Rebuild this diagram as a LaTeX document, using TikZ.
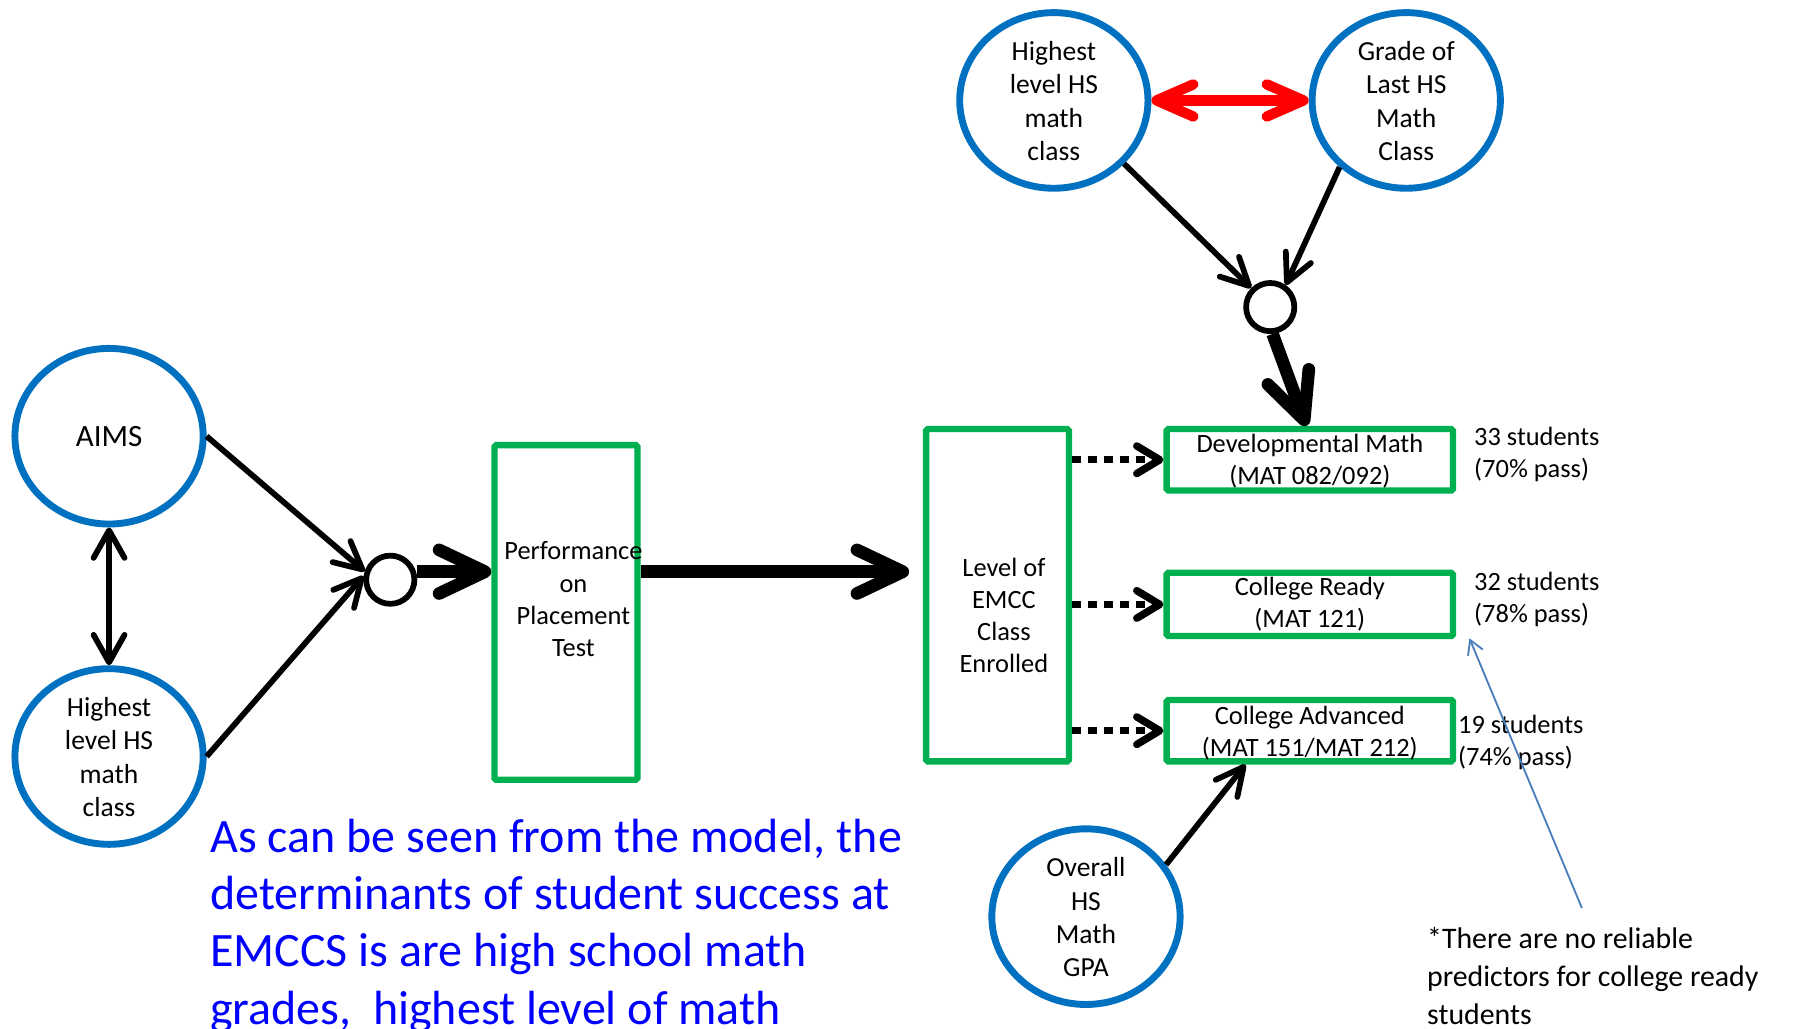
\documentclass[tikz,border=0pt]{standalone}
\usepackage{fontspec}
\setmainfont{Carlito}
\usetikzlibrary{arrows.meta,shapes.geometric,calc}
\definecolor{eblue}{HTML}{0070C0}
\definecolor{bgreen}{HTML}{00B050}
\definecolor{tblue}{HTML}{0000FF}
\definecolor{ablue}{HTML}{4A7EBB}
\definecolor{ared}{HTML}{FF0000}
\begin{document}
\begin{tikzpicture}[x=1pt,y=-1pt,
  oval/.style={ellipse, draw=eblue, line width=6pt, minimum width=164pt, minimum height=153pt, inner sep=0pt},
  gbox/.style={draw=bgreen, line width=5.5pt, rounded corners=1.5pt, inner sep=0pt},
  junc/.style={circle, draw=black, line width=5pt, minimum size=42pt, inner sep=0pt},
  otext/.style={font=\fontsize{24}{29}\selectfont, align=center, inner sep=0pt},
  btext/.style={font=\fontsize{23}{28}\selectfont, align=center, inner sep=0pt},
  stext/.style={font=\fontsize{23}{28}\selectfont, align=left, inner sep=0pt, anchor=west},
  tarr/.style={line width=5pt, -{Straight Barb[length=24pt,width=24pt,round]}},
  darrow/.style={line width=5pt, {Straight Barb[length=24pt,width=27pt,round]}-{Straight Barb[length=24pt,width=27pt,round]}},
  karr/.style={line width=11pt, -{Straight Barb[length=40pt,width=38pt,round]}},
  dotarr/.style={line width=6.5pt, dash pattern=on 7.5pt off 6.5pt, -{Straight Barb[length=20pt,width=24pt,round]}},
  rarr/.style={draw=ared, line width=9pt, {Straight Barb[length=32pt,width=28pt,round]}-{Straight Barb[length=32pt,width=28pt,round]}},
  barr/.style={draw=ablue, line width=1.6pt, -{Straight Barb[length=12pt,width=14pt]}},
]
\useasboundingbox (0,0) rectangle (1568,896);

% ellipses
\node[oval] (aims) at (95,380) {};
\node[oval] (lhigh) at (95,659) {};
\node[oval] (thigh) at (918,87.5) {};
\node[oval] (grade) at (1225,87.5) {};
\node[oval] (overall) at (946,798.5) {};

% junctions
\node[junc] (c1) at (340,505) {};
\node[junc] (c2) at (1106.5,267.5) {};

% boxes
\node[gbox, minimum width=124.5pt, minimum height=291.5pt] (perf) at (493,533.5) {};
\node[gbox, minimum width=124.5pt, minimum height=289.5pt] (level) at (869,518.5) {};
\node[gbox, minimum width=249.5pt, minimum height=53.5pt] (dev) at (1141,400.5) {};
\node[gbox, minimum width=249.5pt, minimum height=55pt] (ready) at (1141,526.5) {};
\node[gbox, minimum width=249.5pt, minimum height=53.5pt] (adv) at (1141,636.5) {};

% texts
\node[otext, font=\fontsize{27}{29}\selectfont] (aimsT) at (95,380) {AIMS};
\node[otext] (lhighT) at (95,659.5) {Highest\\level HS\\math\\class};
\node[otext] (thighT) at (918,88) {Highest\\level HS\\math\\class};
\node[otext] (gradeT) at (1225,88) {Grade of\\Last HS\\Math\\Class};
\node[otext] (overallT) at (946,799) {Overall\\HS\\Math\\GPA};
\node[btext] (perfT) at (499.5,522) {Performance\\on\\Placement\\Test};
\node[btext] (levelT) at (874.5,536) {Level of\\EMCC\\Class\\Enrolled};
\node[btext] (devT) at (1141,401.5) {Developmental Math\\(MAT 082/092)};
\node[btext] (readyT) at (1141,526.5) {College Ready\\(MAT 121)};
\node[btext] (advT) at (1141,638.5) {College Advanced\\(MAT 151/MAT 212)};
\node[stext] (s1) at (1284,396) {33 students\\(70\% pass)};
\node[stext] (s2) at (1284,522) {32 students\\(78\% pass)};
\node[stext] (s3) at (1270,647) {19 students\\(74\% pass)};

\node[font=\fontsize{41.8}{50}\selectfont, text=tblue, align=left, anchor=north west, inner sep=0pt] (para) at (183,713)
  {As can be seen from the model, the\\determinants of student success at\\EMCCS is are high school math\\grades,\ \ highest level of math};
\node[font=\fontsize{26}{33}\selectfont, align=left, anchor=north west, inner sep=0pt] (foot) at (1243,808)
  {*There are no reliable\\predictors for college ready\\students};

% connectors
\coordinate (yl) at (0,498);
\draw[darrow] (aims) -- (lhigh);
\draw[tarr] (aims.east) -- (c1.162);
\draw[tarr] (lhigh.east) -- (c1.172);
\draw[karr] ([yshift=7pt]c1.east) -- (perf.west |- yl);
\draw[karr, shorten >=12pt] (perf.east |- yl) -- (level.west |- yl);
\draw[dotarr] (level.east |- dev.west) -- (dev.west);
\draw[dotarr] (level.east |- ready.west) -- (ready.west);
\draw[dotarr] (level.east |- adv.west) -- (adv.west);
\draw[rarr] (thigh.east) -- (grade.west);
\draw[tarr] (thigh.-42) -- (c2.135);
\draw[tarr] (grade.-135) -- (c2.55);
\draw[karr] (c2.-85) -- ([xshift=-3pt]dev.north);
\draw[tarr] (overall.33) -- ($(adv.south west)!0.28!(adv.south east)$);
\coordinate (bs) at (1378,791);
\coordinate (be) at (1280,556);
\draw[barr] (bs) -- (be);
\end{tikzpicture}
\end{document}
